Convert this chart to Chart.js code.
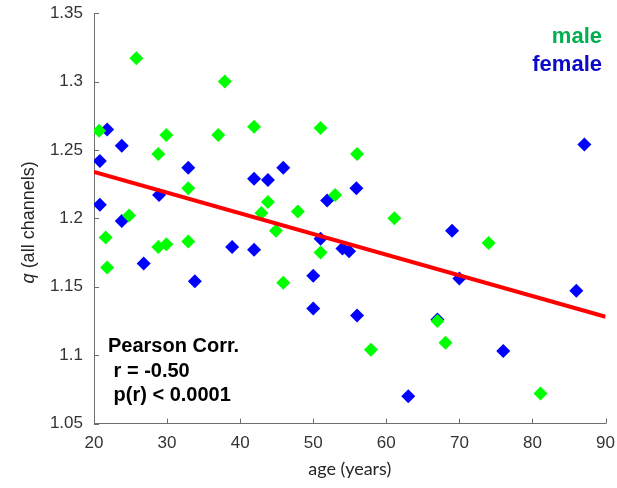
<!DOCTYPE html>
<html>
<head>
<meta charset="utf-8">
<script src="https://cdn.jsdelivr.net/npm/chart.js@4.4.1/dist/chart.umd.min.js"></script>
<style>
    html, body { margin: 0; padding: 0; background: #fff; }
    #wrap { width: 617px; height: 488px; }
</style>
</head>
<body>
<div id="wrap"><canvas id="ageChart"></canvas></div>
<script>
// --- Data ---
const maleAge = [20.7, 25.8, 21.6, 21.8, 24.8, 28.8, 29.9, 28.8, 29.9, 32.9, 32.9, 37.0, 37.9, 41.9,
    42.9, 43.8, 44.9, 45.9, 47.9, 51.0, 51.0, 53.0, 56.0, 57.9, 61.1, 67.0, 68.1, 74.0, 81.1];
const maleQ = [1.264, 1.317, 1.186, 1.164, 1.202, 1.247, 1.261, 1.179, 1.181, 1.222, 1.183, 1.261, 1.300, 1.267,
    1.204, 1.212, 1.191, 1.153, 1.205, 1.266, 1.175, 1.217, 1.247, 1.104, 1.200, 1.125, 1.109, 1.182, 1.072];

const femaleAge = [21.8, 20.8, 20.8, 23.8, 23.8, 26.8, 28.9, 32.9, 33.8, 38.9, 41.9, 41.9, 43.8, 45.9,
    50.0, 50.0, 51.0, 51.9, 54.0, 54.9, 55.9, 56.0, 63.0, 67.0, 69.0, 70.0, 76.0, 86.0, 87.1];
const femaleQ = [1.265, 1.242, 1.210, 1.253, 1.198, 1.167, 1.217, 1.237, 1.154, 1.179, 1.229, 1.177, 1.228, 1.237,
    1.158, 1.134, 1.185, 1.213, 1.178, 1.176, 1.222, 1.129, 1.070, 1.126, 1.191, 1.156, 1.103, 1.147, 1.254];

const fitAge = [20, 90];
const fitQ = [1.234, 1.128];

const xTicks = [20, 30, 40, 50, 60, 70, 80, 90];
const yTicks = [1.05, 1.1, 1.15, 1.2, 1.25, 1.3, 1.35];
const statsLines = ["Pearson Corr.", " r = -0.50", " p(r) < 0.0001"];

const toPoints = (xs, ys) => xs.map((x, i) => ({ x, y: ys[i] }));

// --- Inward ticks, MATLAB style ---
const innerTicks = {
    id: "innerTicks",
    afterDatasetsDraw(chart) {
        const { ctx, chartArea, scales } = chart;
        ctx.save();
        ctx.strokeStyle = "#6e6e6e";
        ctx.lineWidth = 1;
        ctx.beginPath();
        xTicks.forEach(v => {
            const px = Math.round(scales.x.getPixelForValue(v)) + 0.5;
            ctx.moveTo(px, chartArea.bottom);
            ctx.lineTo(px, chartArea.bottom - 5);
        });
        yTicks.forEach(v => {
            const py = Math.round(scales.y.getPixelForValue(v)) + 0.5;
            ctx.moveTo(chartArea.left, py);
            ctx.lineTo(chartArea.left + 5, py);
        });
        ctx.stroke();
        ctx.restore();
    }
};

// --- Text overlays: y title, legend, stats ---
const overlays = {
    id: "overlays",
    afterDraw(chart) {
        const { ctx, chartArea } = chart;
        ctx.save();

        // y title with italic q
        const midY = (chartArea.top + chartArea.bottom) / 2 + 4;
        ctx.translate(34, midY);
        ctx.rotate(-Math.PI / 2);
        ctx.fillStyle = "#262626";
        ctx.textBaseline = "alphabetic";
        const italic = "italic 18px 'Liberation Sans', Arial, sans-serif";
        const normal = "18px 'Liberation Sans', Arial, sans-serif";
        ctx.font = italic;
        const qW = ctx.measureText("q").width;
        ctx.font = normal;
        const restW = ctx.measureText(" (all channels)").width;
        const startX = -(qW + restW) / 2;
        ctx.font = italic;
        ctx.fillText("q", startX, 0);
        ctx.font = normal;
        ctx.fillText(" (all channels)", startX + qW, 0);
        ctx.setTransform(1, 0, 0, 1, 0, 0);
        ctx.scale(chart.currentDevicePixelRatio, chart.currentDevicePixelRatio);

        // legend text
        ctx.font = "bold 22px 'Liberation Sans', Arial, sans-serif";
        ctx.textAlign = "right";
        ctx.fillStyle = "#00b050";
        ctx.fillText("male", 602, 43);
        ctx.fillStyle = "#0a0ac8";
        ctx.fillText("female", 602, 71);

        // stats text
        ctx.font = "bold 20px 'Liberation Sans', Arial, sans-serif";
        ctx.textAlign = "left";
        ctx.fillStyle = "#000";
        statsLines.forEach((t, i) => ctx.fillText(t, 108, 352 + i * 24.5));

        ctx.restore();
    }
};

const tickFont = { family: "'Liberation Sans', Arial, sans-serif", size: 17 };

new Chart(document.getElementById("ageChart"), {
    type: "scatter",
    data: {
        datasets: [
            {
                type: "line",
                label: "fit",
                data: toPoints(fitAge, fitQ),
                borderColor: "#ff0000",
                borderWidth: 4,
                pointRadius: 0,
                fill: false
            },
            {
                label: "male",
                data: toPoints(maleAge, maleQ),
                pointStyle: "rectRot",
                pointRadius: 7,
                backgroundColor: "#00ff00",
                borderWidth: 0
            },
            {
                label: "female",
                data: toPoints(femaleAge, femaleQ),
                pointStyle: "rectRot",
                pointRadius: 7,
                backgroundColor: "#0000ff",
                borderWidth: 0
            }
        ]
    },
    options: {
        responsive: true,
        maintainAspectRatio: false,
        animation: false,
        events: [],
        layout: { padding: { top: 13, right: 3.3, left: 0, bottom: 0 } },
        plugins: { legend: { display: false }, tooltip: { enabled: false } },
        scales: {
            x: {
                type: "linear",
                min: 20,
                max: 90,
                afterFit: s => { s.height = 64.5; },
                afterBuildTicks: s => { s.ticks = xTicks.map(v => ({ value: v })); },
                grid: { display: false },
                border: { display: true, color: "#6e6e6e", width: 1 },
                ticks: { font: tickFont, color: "#333", padding: 2, maxRotation: 0 },
                title: {
                    display: true,
                    text: "age (years)",
                    font: { family: "Lato, 'Liberation Sans', sans-serif", size: 18 },
                    color: "#262626",
                    padding: { top: 4, bottom: 8 }
                }
            },
            y: {
                type: "linear",
                min: 1.05,
                max: 1.35,
                afterFit: s => { s.width = 94; },
                afterBuildTicks: s => { s.ticks = yTicks.map(v => ({ value: v })); },
                grid: { display: false },
                border: { display: true, color: "#6e6e6e", width: 1 },
                ticks: { font: tickFont, color: "#333", padding: 3, callback: v => String(+v.toFixed(2)) }
            }
        }
    },
    plugins: [innerTicks, overlays]
});
</script>
</body>
</html>
